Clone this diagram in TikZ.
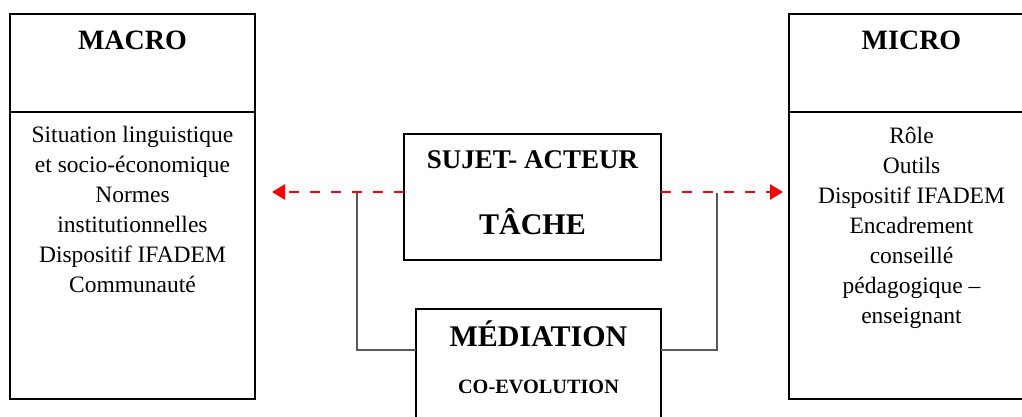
\documentclass[tikz,border=0pt]{standalone}
\usepackage{fontspec}
\setmainfont{Liberation Serif}
\usetikzlibrary{arrows.meta,positioning,calc}
\tikzset{
  panel/.style={draw,line width=1.8pt,inner sep=0pt,outer sep=0pt,minimum width=245pt},
  heading/.style={font=\bfseries\fontsize{28}{32}\selectfont,inner sep=0pt,anchor=base},
  itemlist/.style={align=center,inner sep=0pt,anchor=north,font=\fontsize{23.5}{30}\selectfont},
  influence/.style={-{Triangle[length=13pt,width=15pt]},red,line width=2.6pt,
    dash pattern=on 10pt off 11pt},
  bracket/.style={draw=black!65,line width=1.5pt}
}
\begin{document}
\begin{tikzpicture}[x=1pt,y=1pt,
  bigtitle/.style={heading,font=\bfseries\fontsize{30}{34}\selectfont},
  smalltitle/.style={heading,font=\bfseries\fontsize{20.3}{24}\selectfont}
]
  \useasboundingbox (0,0) rectangle (1022,416);
  % macro side
  \node[panel,minimum height=98pt] (macrohead) at (132.5,353) {};
  \node[panel,minimum height=287pt,below=0pt of macrohead] (macrobody) {};
  \node[heading] (macrotitle) at (132.5,366) {MACRO};
  \node[itemlist] (macroitems) at (132.5,290) {Situation linguistique\\et socio-économique\\Normes\\institutionnelles\\Dispositif IFADEM\\Communauté};
  % micro side
  \node[panel,minimum height=98pt] (microhead) at (911.5,353) {};
  \node[panel,minimum height=287pt,below=0pt of microhead] (microbody) {};
  \node[heading] (microtitle) at (911.5,366) {MICRO};
  \node[itemlist] (microitems) at (911.5,289) {Rôle\\Outils\\Dispositif IFADEM\\Encadrement\\conseillé\\pédagogique --\\enseignant};
  % centre
  \node[panel,minimum width=257pt,minimum height=126pt] (sujet) at (532.5,219) {};
  \node[heading,font=\bfseries\fontsize{27}{30}\selectfont] (acteur) at (532.5,248) {SUJET- ACTEUR};
  \node[bigtitle] (tache) at (532.5,182) {TÂCHE};
  \node[panel,minimum height=133pt] (media) at (538.5,40.5) {};
  \node[bigtitle] (mediation) at (538.5,70) {MÉDIATION};
  \node[smalltitle] (coevol) at (538.5,23) {CO-EVOLUTION};
  \coordinate (leftfoot) at (357,223);
  \coordinate (rightfoot) at (717,223);
  \coordinate (bendlevel) at (0,66);
  \draw[bracket] (leftfoot) |- (media.west |- bendlevel);
  \draw[bracket] (rightfoot) |- (media.east |- bendlevel);
  \coordinate (macroend) at (272,224);
  \coordinate (microend) at (783,224);
  \draw[influence] (sujet.west |- macroend) -- (macroend);
  \draw[influence] (sujet.east |- microend) -- (microend);
\end{tikzpicture}
\end{document}
